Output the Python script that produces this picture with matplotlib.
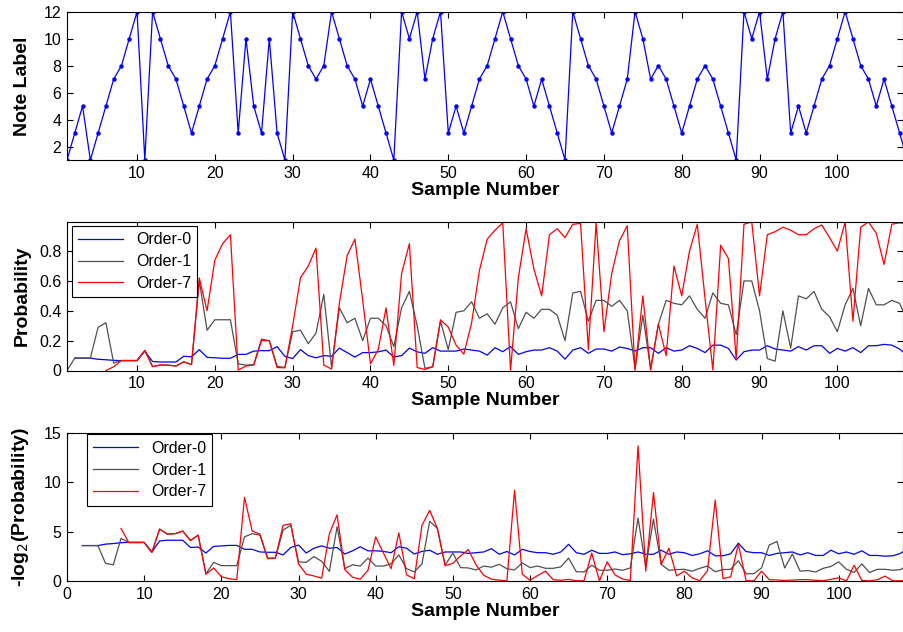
import numpy as np
import matplotlib
matplotlib.use('Agg')
import matplotlib.pyplot as plt

plt.rcParams['font.family'] = ['Liberation Sans', 'DejaVu Sans']

nan = np.nan

# note label sequence (top panel)
note_label = [1, 3, 5, 1, 3, 5, 7, 8, 10, 12,
              1, 12, 10, 8, 7, 5, 3, 5, 7, 8,
              10, 12, 3, 10, 5, 3, 10, 3, 1, 12,
              10, 8, 7, 8, 12, 10, 8, 7, 5, 7,
              5, 3, 1, 12, 10, 12, 7, 10, 12, 3,
              5, 3, 5, 7, 8, 10, 12, 10, 8, 7,
              5, 7, 5, 3, 1, 12, 10, 8, 7, 5,
              3, 5, 7, 12, 10, 7, 8, 7, 5, 3,
              5, 7, 8, 7, 5, 3, 1, 12, 10, 12,
              7, 10, 12, 3, 5, 3, 5, 7, 8, 10,
              12, 10, 8, 7, 5, 7, 5, 3, 1]

# predicted probability of each note, per model order
p_order0 = [nan, 0.083, 0.083, 0.083, 0.075, 0.072, 0.068, 0.066, 0.066, 0.066,
            0.13, 0.06, 0.057, 0.057, 0.057, 0.095, 0.092, 0.14, 0.088, 0.085,
            0.082, 0.082, 0.108, 0.108, 0.13, 0.133, 0.133, 0.16, 0.095, 0.08,
            0.14, 0.1, 0.085, 0.1, 0.095, 0.15, 0.12, 0.09, 0.12, 0.12,
            0.125, 0.137, 0.09, 0.1, 0.15, 0.125, 0.115, 0.153, 0.13, 0.13,
            0.13, 0.144, 0.137, 0.13, 0.103, 0.153, 0.126, 0.16, 0.108, 0.126,
            0.137, 0.137, 0.153, 0.13, 0.076, 0.137, 0.153, 0.115, 0.144, 0.144,
            0.13, 0.157, 0.148, 0.13, 0.153, 0.153, 0.115, 0.153, 0.13, 0.137,
            0.166, 0.148, 0.12, 0.17, 0.17, 0.148, 0.07, 0.126, 0.137, 0.137,
            0.166, 0.144, 0.137, 0.13, 0.16, 0.137, 0.166, 0.166, 0.115, 0.148,
            0.13, 0.153, 0.12, 0.166, 0.166, 0.175, 0.17, 0.144, 0.1]

p_order1 = [0.0, 0.083, 0.083, 0.083, 0.29, 0.32, 0.05, 0.067, 0.067, 0.067,
            0.134, 0.026, 0.037, 0.036, 0.03, 0.058, 0.04, 0.6, 0.27, 0.34,
            0.34, 0.34, 0.045, 0.036, 0.04, 0.21, 0.2, 0.028, 0.02, 0.26,
            0.27, 0.18, 0.25, 0.51, 0.022, 0.42, 0.32, 0.35, 0.2, 0.35,
            0.35, 0.3, 0.16, 0.42, 0.53, 0.3, 0.015, 0.025, 0.33, 0.14,
            0.39, 0.4, 0.46, 0.35, 0.38, 0.31, 0.42, 0.46, 0.28, 0.39,
            0.35, 0.41, 0.41, 0.37, 0.2, 0.52, 0.53, 0.33, 0.47, 0.47,
            0.43, 0.47, 0.4, 0.012, 0.37, 0.013, 0.31, 0.47, 0.45, 0.44,
            0.5, 0.41, 0.35, 0.52, 0.45, 0.44, 0.24, 0.6, 0.6, 0.4,
            0.08, 0.062, 0.4, 0.15, 0.5, 0.48, 0.53, 0.41, 0.36, 0.26,
            0.44, 0.55, 0.3, 0.55, 0.44, 0.44, 0.47, 0.45, 0.33]

p_order7 = [nan, nan, nan, nan, nan, 0.0, 0.025, 0.067, 0.067, 0.067,
            0.134, 0.026, 0.037, 0.036, 0.03, 0.058, 0.04, 0.62, 0.4, 0.74,
            0.85, 0.91, 0.0028, 0.03, 0.037, 0.2, 0.2, 0.02, 0.018, 0.3,
            0.62, 0.7, 0.82, 0.036, 0.0096, 0.45, 0.77, 0.88, 0.47, 0.045,
            0.14, 0.42, 0.034, 0.65, 0.85, 0.02, 0.007, 0.025, 0.34, 0.29,
            0.17, 0.11, 0.32, 0.67, 0.88, 0.94, 0.99, 0.0017, 0.62, 0.95,
            0.68, 0.5, 0.91, 0.95, 0.89, 0.98, 0.985, 0.14, 0.99, 0.26,
            0.65, 0.87, 0.97, 0.000075, 0.5, 0.002, 0.31, 0.1, 0.7, 0.5,
            0.8, 0.98, 0.48, 0.0034, 0.84, 0.75, 0.075, 0.98, 0.995, 0.5,
            0.91, 0.93, 0.96, 0.94, 0.91, 0.91, 0.95, 0.975, 0.89, 0.8,
            0.995, 0.33, 0.96, 0.995, 0.92, 0.71, 0.98, 0.99, 0.98]

series_names = ['Order-0', 'Order-1', 'Order-7']
series_colors = ['#0000ff', '#505050', '#ff0000']


def surprisal(p):
    p = np.asarray(p, dtype=float)
    with np.errstate(divide='ignore', invalid='ignore'):
        s = -np.log2(p)
    s[~np.isfinite(s)] = np.nan
    return s


def style_axes(ax):
    ax.tick_params(direction='in', top=True, right=True, length=4,
                   width=0.8, labelsize=11.5, pad=4)
    for sp in ax.spines.values():
        sp.set_linewidth(0.8)


def add_legend(ax, anchor):
    leg = ax.legend(loc='upper left', bbox_to_anchor=anchor, borderaxespad=0,
                    fontsize=11.5, handlelength=2.8, labelspacing=0.42,
                    fancybox=False, framealpha=1, edgecolor='black',
                    borderpad=0.4)
    leg.get_frame().set_linewidth(0.8)


x = np.arange(1, len(note_label) + 1)
probs = [p_order0, p_order1, p_order7]

fig = plt.figure(figsize=(9.04, 6.32), dpi=100)
W, H = 904.0, 632.0
left = 67 / W
width = 836.5 / W
ax1 = fig.add_axes([left, 1 - 160 / H, width, 148.3 / H])
ax2 = fig.add_axes([left, 1 - 370.5 / H, width, 148.8 / H])
ax3 = fig.add_axes([left, 1 - 581 / H, width, 148 / H])

label_kw = dict(fontsize=14, fontweight='bold')

# top: note labels
ax1.plot(x, note_label, color='#0000ff', lw=0.9, marker='o', markersize=3.2,
         markeredgewidth=0)
ax1.set_xlim(1, 108.5)
ax1.set_ylim(1, 12)
ax1.set_yticks([2, 4, 6, 8, 10, 12])
ax1.set_xticks(range(10, 101, 10))
ax1.set_ylabel('Note Label', **label_kw)
ax1.set_xlabel('Sample Number', labelpad=1, **label_kw)
style_axes(ax1)

# middle: probabilities
for p, name, c in zip(probs, series_names, series_colors):
    ax2.plot(x, p, color=c, lw=0.9, label=name)
ax2.set_xlim(1, 108.5)
ax2.set_ylim(0, 0.997)
ax2.set_yticks([0, 0.2, 0.4, 0.6, 0.8])
ax2.set_yticklabels(['0', '0.2', '0.4', '0.6', '0.8'])
ax2.set_xticks(range(10, 101, 10))
ax2.set_ylabel('Probability', **label_kw)
ax2.set_xlabel('Sample Number', labelpad=1, **label_kw)
style_axes(ax2)
add_legend(ax2, (0.006, 0.971))

# bottom: surprisal
for p, name, c in zip(probs, series_names, series_colors):
    ax3.plot(x, surprisal(p), color=c, lw=0.9, label=name)
ax3.set_xlim(0, 108.4)
ax3.set_ylim(0, 15)
ax3.set_yticks([0, 5, 10, 15])
ax3.set_xticks(range(0, 101, 10))
ax3.set_ylabel('-log$_2$(Probability)', **label_kw)
ax3.set_xlabel('Sample Number', labelpad=1, **label_kw)
style_axes(ax3)
add_legend(ax3, (0.024, 0.99))

for ax in (ax1, ax2, ax3):
    ax.yaxis.set_label_coords(-0.043, 0.5)

fig.savefig('out.png', dpi=100)
